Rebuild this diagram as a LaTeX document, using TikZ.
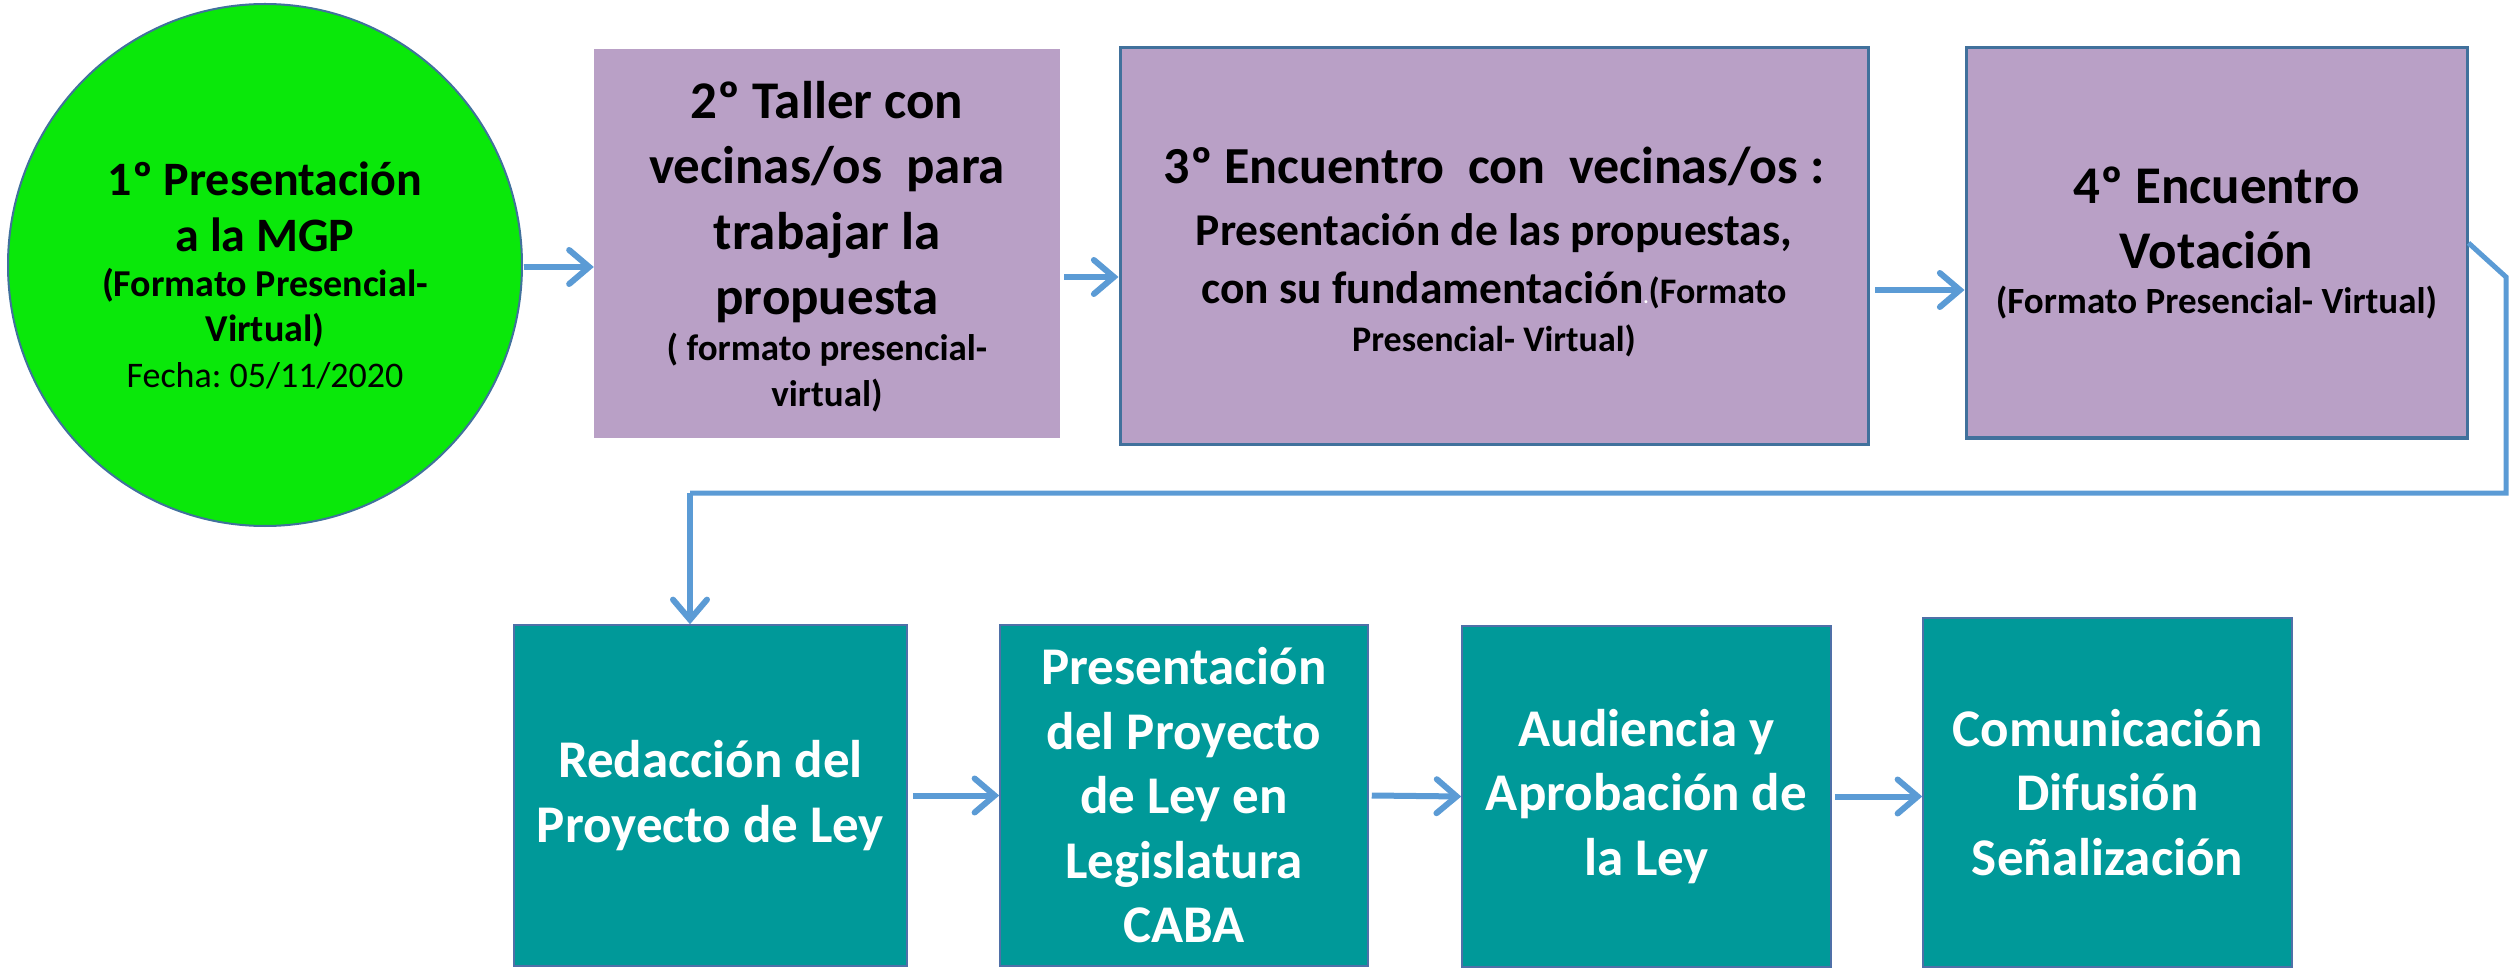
\documentclass[tikz,border=0pt]{standalone}
\usepackage{fontspec}
\setmainfont{Carlito}
\usetikzlibrary{arrows.meta,shapes.geometric}
\definecolor{grn}{HTML}{0AE80A}
\definecolor{purp}{HTML}{B9A0C6}
\definecolor{tealb}{HTML}{009999}
\definecolor{arrc}{HTML}{5B9BD5}
\definecolor{bord}{HTML}{41719C}
\definecolor{bordb}{HTML}{4F70A8}
\newcommand{\nsp}{\spaceskip=\fontdimen2\font\xspaceskip=\fontdimen2\font\relax}
\newcommand{\bigf}{\fontsize{53}{64.5}\selectfont\bfseries\nsp}
\newcommand{\midf}{\fontsize{48}{56}\selectfont\bfseries\nsp}
\newcommand{\smf}{\fontsize{37}{45}\selectfont\bfseries\nsp}
\begin{document}
\begin{tikzpicture}[x=1pt,y=-1pt,
  purpbox/.style={rectangle, fill=purp, inner sep=0pt, align=center},
  tealbox/.style={rectangle, fill=tealb, draw=bordb, line width=1.5pt, inner sep=0pt, align=center, text=white},
  flow/.style={draw=arrc, line width=6pt, -{Straight Barb[length=20pt,width=34pt,line cap=round]}},
  link/.style={draw=arrc, line width=5pt}
]
\useasboundingbox (0,0) rectangle (2509,973);
% circle
\node[ellipse, fill=grn, draw=bord, line width=2pt, minimum width=514pt, minimum height=522pt, inner sep=0pt, align=center, text width=350pt] (c1) at (265,265)
  {{\midf \rule{0pt}{55pt}1º Presentación\\a la MGP\par}{\fontsize{38}{45}\selectfont\bfseries\nsp (Formato Presencial-\\Virtual)\par}{\fontsize{36}{46}\selectfont\nsp Fecha: 05/11/2020\par}};
% box 2
\node[purpbox, minimum width=466pt, minimum height=389pt, text width=446pt] (b2) at (827,243.5)
  {{\fontsize{53}{65.5}\selectfont\bfseries\nsp \rule{0pt}{44pt}2º Taller con\\vecinas/os\ \ para\\trabajar la\\propuesta\par}{\fontsize{37}{46}\selectfont\bfseries\nsp ( formato presencial-\\virtual)\par}};
% box 3
\node[purpbox, draw=bord, line width=3pt, minimum width=748pt, minimum height=396pt, text width=720pt] (b3) at (1494,246)
  {{\fontsize{52}{62}\selectfont\bfseries\nsp \rule{0pt}{49pt}3º Encuentro\ \ con\ \ vecinas/os :\par}{\fontsize{45.5}{62}\selectfont\bfseries\nsp Presentación de las propuestas,\par}{\fontsize{45.5}{58}\selectfont\bfseries\nsp con su fundamentación{\color{white}\fontsize{20}{20}\selectfont.}{\fontsize{36}{45}\selectfont(Formato}\par}{\fontsize{36}{48}\selectfont\bfseries\nsp Presencial- Virtual)\par}};
% box 4
\node[purpbox, draw=bord, line width=3pt, minimum width=501pt, minimum height=390pt, text width=480pt] (b4) at (2216.5,243)
  {{\bigf 4º Encuentro\\Votación\par}{\smf (Formato Presencial- Virtual)\par}};
% bottom row
\node[tealbox, minimum width=393pt, minimum height=341pt, text width=370pt] (b5) at (710.5,795.5)
  {\bigf Redacción del\\Proyecto de Ley\par};
\node[tealbox, minimum width=368pt, minimum height=341pt, text width=350pt] (b6) at (1184,795.5)
  {\bigf Presentación\\del Proyecto\\de Ley en\\Legislatura\\CABA\par};
\node[tealbox, minimum width=369pt, minimum height=341pt, text width=350pt] (b7) at (1646.5,796.5)
  {\bigf Audiencia y\\Aprobación de\\la Ley\par};
\node[tealbox, minimum width=369pt, minimum height=349pt, text width=350pt] (b8) at (2107.5,792.5)
  {\bigf Comunicación\\Difusión\\Señalización\par};
% helper coordinates
\coordinate (a1) at (524,267);
\coordinate (a2) at (1064,277);
\coordinate (a3) at (1875,290);
\coordinate (k1) at (2506,277);
\coordinate (k2) at (2506,493);
\coordinate (k3) at (690,493);
% arrows
\draw[flow] (a1) -- (a1 -| b2.west);
\draw[flow] (a2) -- (a2 -| b3.west);
\draw[flow] (a3) -- (a3 -| b4.west);
\draw[link] (b4.east) -- (k1) -- (k2) -- (k3);
\draw[flow] (k3) -- (k3 |- b5.north);
\draw[flow] ([xshift=5pt]b5.east) -- (b6.west);
\draw[flow] ([xshift=3pt]b6.east) -- (b7.west);
\draw[flow] ([xshift=3pt]b7.east) -- (b7.east -| b8.west);
\end{tikzpicture}
\end{document}
